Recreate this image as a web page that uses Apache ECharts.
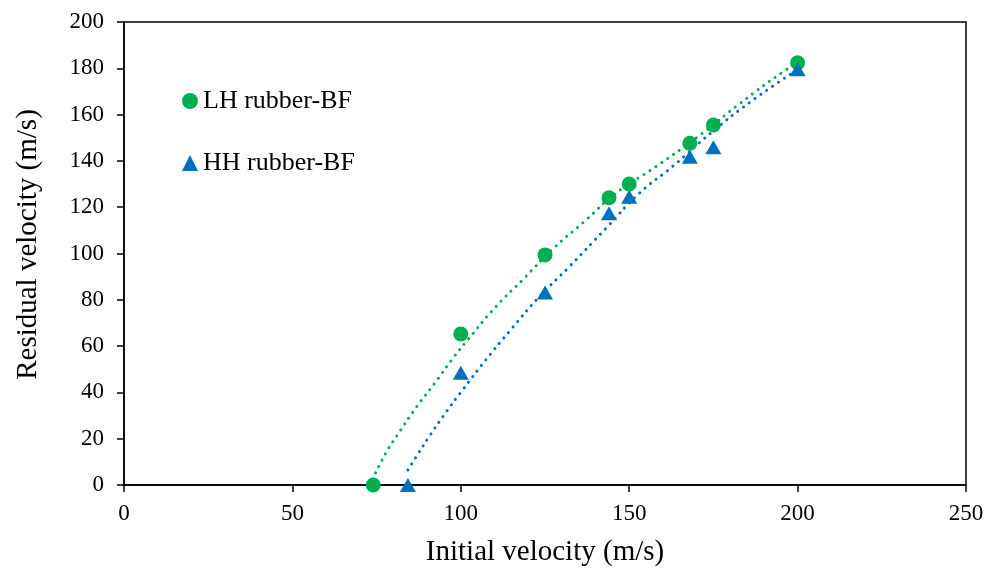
<!DOCTYPE html>
<html>
<head>
<meta charset="utf-8">
<script src="https://cdn.jsdelivr.net/npm/echarts@6/dist/echarts.min.js"></script>
<style>
  html, body { margin: 0; padding: 0; background: #fff; }
  #chart { width: 989px; height: 569px; }
</style>
</head>
<body>
<div id="chart"></div>
<script>
// Measured impact tests: initial vs residual velocity (m/s)
const lhInitial  = [74, 100, 125, 144, 150, 168, 175, 200];
const lhResidual = [0, 65.2, 99.4, 124.1, 130, 147.6, 155.5, 182.4];
const hhInitial  = [84.3, 100, 125, 144, 150, 168, 175, 200];
const hhResidual = [0, 48.5, 83.1, 117.4, 124.5, 141.8, 145.9, 179.6];

// Fitted trend curves (sampled)
const lhFitX = [73.8, 77.7, 81.5, 86.9, 92.6, 98, 102, 110.4, 118.8, 127.2, 136.6, 146, 157.9, 171.8, 182.7, 196.5, 199.5];
const lhFitY = [2.5, 13.7, 22.3, 33.8, 44.6, 55.4, 62.6, 77, 89.3, 101.8, 113.7, 126, 137.5, 152, 164.6, 179.3, 181.5];
const hhFitX = [84.3, 87.1, 90.6, 95, 100.5, 107.4, 114.8, 123.3, 132.2, 143.1, 153, 162.8, 174.7, 186.1, 199.5];
const hhFitY = [6.5, 13, 20.9, 30.2, 41, 54, 67, 81.3, 94.3, 110.9, 126, 137.5, 152.6, 165.6, 179];

const xTicks = { min: 0, max: 250, interval: 50 };
const yTicks = { min: 0, max: 200, interval: 20 };

const seriesNames = ['LH rubber-BF', 'HH rubber-BF'];
const green = '#00b050';
const blue = '#0070c0';
const font = '"Liberation Serif", "Times New Roman", serif';

const zip = (a, b) => a.map((v, i) => [v, b[i]]);

const chart = echarts.init(document.getElementById('chart'));
chart.setOption({
  animation: false,
  backgroundColor: '#fff',
  grid: {
    left: 124, right: 23, top: 22, bottom: 84,
    outerBoundsMode: 'none',
    containLabel: false,
    show: true, borderColor: '#000', borderWidth: 1.5
  },
  legend: {
    orient: 'vertical',
    left: 182, top: 88,
    padding: 0,
    itemGap: 36,
    itemWidth: 16, itemHeight: 16,
    data: [
      { name: seriesNames[0], icon: 'circle' },
      { name: seriesNames[1], icon: 'triangle' }
    ],
    textStyle: { fontFamily: font, fontSize: 26, color: '#000' }
  },
  xAxis: {
    type: 'value',
    min: xTicks.min, max: xTicks.max, interval: xTicks.interval,
    name: 'Initial velocity (m/s)',
    nameLocation: 'middle', nameGap: 53,
    nameTextStyle: { fontFamily: font, fontSize: 29, color: '#000' },
    axisLine: { show: true, lineStyle: { color: '#000', width: 1.5 } },
    axisTick: { show: true, length: 7, lineStyle: { color: '#000', width: 1.5 } },
    axisLabel: { fontFamily: font, fontSize: 23, color: '#000', margin: 17 },
    splitLine: { show: false }
  },
  yAxis: {
    type: 'value',
    min: yTicks.min, max: yTicks.max, interval: yTicks.interval,
    name: 'Residual velocity (m/s)',
    nameLocation: 'middle', nameGap: 81,
    nameTextStyle: { fontFamily: font, fontSize: 29, color: '#000', padding: [0, 0, 0, 18] },
    axisLine: { show: true, lineStyle: { color: '#000', width: 1.5 } },
    axisTick: { show: true, length: 7, lineStyle: { color: '#000', width: 1.5 } },
    axisLabel: { fontFamily: font, fontSize: 23, color: '#000', margin: 20 },
    splitLine: { show: false }
  },
  series: [
    {
      name: seriesNames[0] + ' fit', type: 'line', smooth: true, symbol: 'none',
      data: zip(lhFitX, lhFitY),
      lineStyle: { color: green, width: 3, type: [0.1, 7], cap: 'round' },
      z: 1
    },
    {
      name: seriesNames[1] + ' fit', type: 'line', smooth: true, symbol: 'none',
      data: zip(hhFitX, hhFitY),
      lineStyle: { color: blue, width: 3, type: [0.1, 7], cap: 'round' },
      z: 1
    },
    {
      name: seriesNames[0], type: 'scatter', symbol: 'circle', symbolSize: 15,
      itemStyle: { color: green, opacity: 1 },
      data: zip(lhInitial, lhResidual), z: 3
    },
    {
      name: seriesNames[1], type: 'scatter', symbol: 'triangle', symbolSize: [16, 14],
      itemStyle: { color: blue, opacity: 1 },
      data: zip(hhInitial, hhResidual), z: 3
    }
  ]
});
</script>
</body>
</html>
